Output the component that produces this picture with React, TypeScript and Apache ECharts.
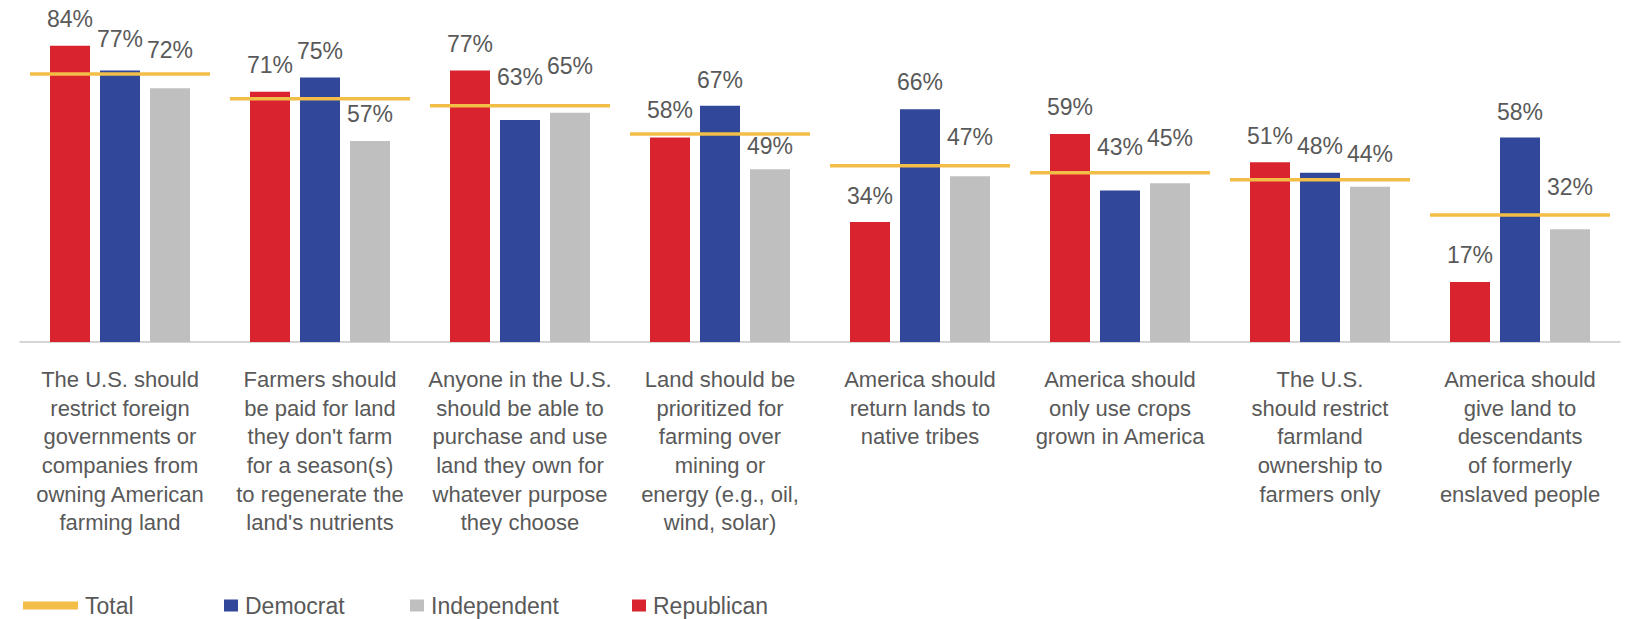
import React, { useEffect, useRef } from "react";
import * as echarts from "echarts";

const categories = [
  "The U.S. should\nrestrict foreign\ngovernments or\ncompanies from\nowning American\nfarming land",
  "Farmers should\nbe paid for land\nthey don't farm\nfor a season(s)\nto regenerate the\nland's nutrients",
  "Anyone in the U.S.\nshould be able to\npurchase and use\nland they own for\nwhatever purpose\nthey choose",
  "Land should be\nprioritized for\nfarming over\nmining or\nenergy (e.g., oil,\nwind, solar)",
  "America should\nreturn lands to\nnative tribes",
  "America should\nonly use crops\ngrown in America",
  "The U.S.\nshould restrict\nfarmland\nownership to\nfarmers only",
  "America should\ngive land to\ndescendants\nof formerly\nenslaved people",
];

const republican = [84, 71, 77, 58, 34, 59, 51, 17];
const democrat = [77, 75, 63, 67, 66, 43, 48, 58];
const independent = [72, 57, 65, 49, 47, 45, 44, 32];
const total = [76, 69, 67, 59, 50, 48, 46, 36];

// label nudges (px of label centre above bar top), styling only
const liftRep = [27, 27, 27, 28, 26, 27, 26, 27];
const liftDem = [32, 27, 43, 26, 27, 43, 27, 26];
const liftInd = [38, 27, 47, 23, 39, 45, 33, 42];

const RED = "#D9232F";
const BLUE = "#30479A";
const GRAY = "#BFBFBF";
const GOLD = "#F2BE48";
const TEXT = "#595959";
const FONT = "'Liberation Sans', Arial, Helvetica, sans-serif";

function barData(values: number[], lifts: number[]) {
  return values.map((v, i) => ({
    value: v,
    label: { distance: lifts[i] - 11.5 },
  }));
}

export default function App() {
  const ref = useRef<HTMLDivElement>(null);

  useEffect(() => {
    if (!ref.current) return;
    const chart = echarts.init(ref.current, null, { renderer: "svg" });
    const labelStyle = {
      show: true,
      position: "top" as const,
      formatter: "{c}%",
      color: TEXT,
      fontSize: 23,
      fontFamily: FONT,
    };
    const legendText = {
      color: TEXT,
      fontSize: 23,
      fontFamily: FONT,
      padding: [0, 0, 0, 2],
    };
    const legendBase = {
      top: 594,
      padding: 0,
      selectedMode: false,
      textStyle: legendText,
    };
    chart.setOption({
      animation: false,
      backgroundColor: "#ffffff",
      grid: { left: 20, right: 15, top: 0, height: 342, containLabel: false },
      xAxis: {
        type: "category",
        data: categories,
        axisLine: { show: true, lineStyle: { color: "#C8C8C8", width: 1.5 } },
        axisTick: { show: false },
        axisLabel: {
          interval: 0,
          color: TEXT,
          fontSize: 22,
          fontFamily: FONT,
          lineHeight: 28.7,
          margin: 23,
          align: "center",
        },
      },
      yAxis: {
        type: "value",
        min: 0,
        max: 97,
        show: false,
        splitLine: { show: false },
      },
      legend: [
        {
          ...legendBase,
          data: [{ name: "Total", icon: "rect" }],
          left: 23,
          itemWidth: 55,
          itemHeight: 8,
        },
        {
          ...legendBase,
          data: [{ name: "Democrat", icon: "rect" }],
          left: 224,
          itemWidth: 14,
          itemHeight: 12,
        },
        {
          ...legendBase,
          data: [{ name: "Independent", icon: "rect" }],
          left: 410,
          itemWidth: 14,
          itemHeight: 12,
        },
        {
          ...legendBase,
          data: [{ name: "Republican", icon: "rect" }],
          left: 632,
          itemWidth: 14,
          itemHeight: 12,
        },
      ],
      series: [
        {
          name: "Republican",
          type: "bar",
          barWidth: 40,
          barGap: "25%",
          itemStyle: { color: RED },
          label: labelStyle,
          data: barData(republican, liftRep),
        },
        {
          name: "Democrat",
          type: "bar",
          barWidth: 40,
          barGap: "25%",
          itemStyle: { color: BLUE },
          label: labelStyle,
          data: barData(democrat, liftDem),
        },
        {
          name: "Independent",
          type: "bar",
          barWidth: 40,
          barGap: "25%",
          itemStyle: { color: GRAY },
          label: labelStyle,
          data: barData(independent, liftInd),
        },
        {
          name: "Total",
          type: "custom",
          z: 10,
          itemStyle: { color: GOLD },
          encode: { x: 0, y: 1 },
          data: total.map((v, i) => [i, v]),
          renderItem: (params: any, api: any) => {
            const c = api.coord([api.value(0), api.value(1)]);
            const w = api.size([1, 0])[0] * 0.9;
            return {
              type: "line",
              shape: { x1: c[0] - w / 2, y1: c[1], x2: c[0] + w / 2, y2: c[1] },
              style: { stroke: GOLD, lineWidth: 3.5 },
            };
          },
        },
      ],
    });
    return () => chart.dispose();
  }, []);

  return (
    <div
      ref={ref}
      style={{ position: "absolute", left: 0, top: 0, width: 1635, height: 619 }}
    />
  );
}
